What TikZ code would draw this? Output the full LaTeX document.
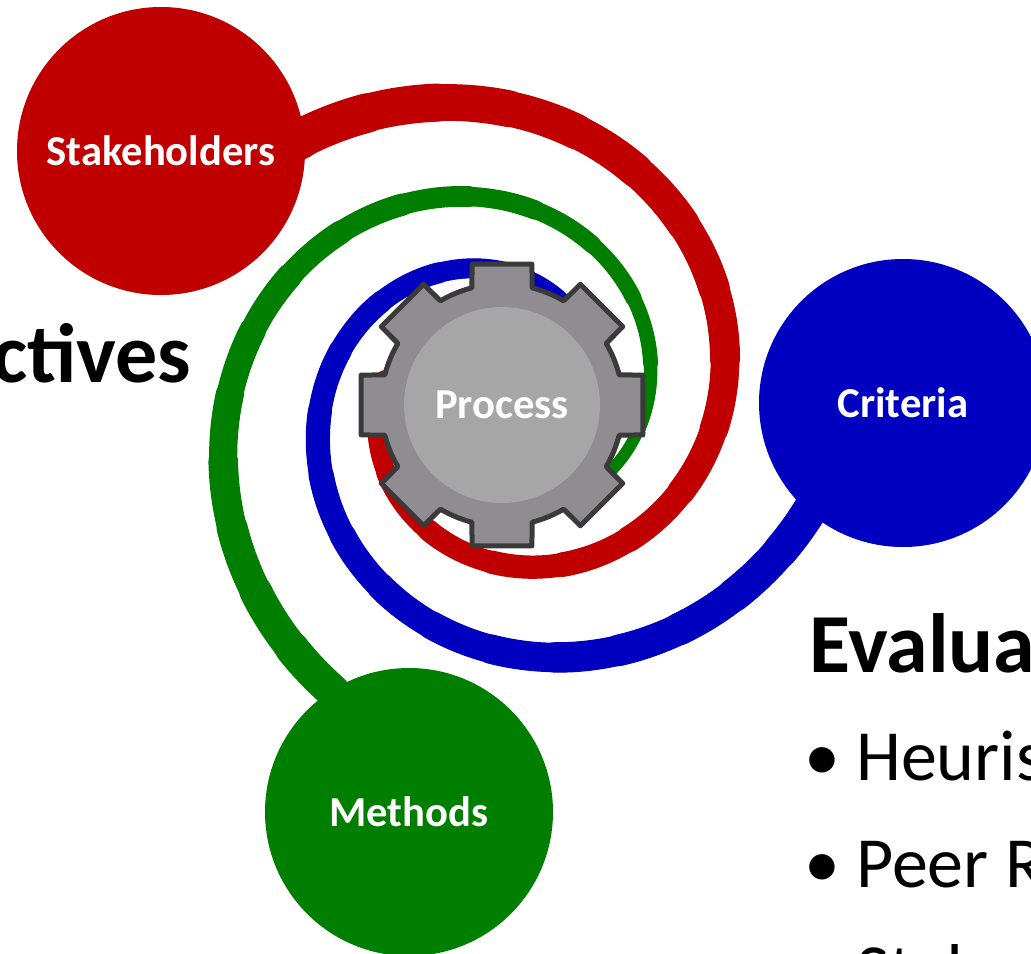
\documentclass[tikz,border=0pt]{standalone}
\usepackage{fontspec}
\setmainfont{Carlito}
\usepackage{xcolor}
\usepackage{tikz}
\usetikzlibrary{backgrounds}
\definecolor{armred}{RGB}{192,0,0}
\definecolor{armgreen}{RGB}{0,126,0}
\definecolor{armblue}{RGB}{0,0,192}
\definecolor{gearbody}{RGB}{143,141,146}
\definecolor{gearhub}{RGB}{166,166,166}
\definecolor{gearrim}{RGB}{58,58,58}
% colour, start width, end width, length (pt), path
\newcommand\taper[5]{\foreach \k [evaluate=\k as \dl using {\k==20 ? 4000 : #4/20*\k}, evaluate=\k as \lw using #2-(#2-#3)/19*(\k-1)] in {1,...,20}
	\draw[#1,line width=\lw pt,line cap=round,line join=round,dash pattern=on \dl pt off 4000pt] #5;}

\begin{document}
\begin{tikzpicture}[x=0.75pt,y=-0.75pt]
		\tikzset{ball/.style={circle,fill=#1,minimum size=216pt,inner sep=0pt,text=white,font=\fontsize{32}{38}\selectfont\bfseries}};
		\tikzset{big/.style={anchor=base west,inner sep=0pt,font=\fontsize{63}{70}\selectfont\bfseries}};
		\tikzset{item/.style={anchor=base west,inner sep=0pt,font=\fontsize{54}{60}\selectfont}};
		\useasboundingbox (0,0) rectangle (1031,953);
		
		\node[ball=armred] (sh) at (161,151) {Stakeholders};
		\node[ball=armblue] (crit) at (903,403) {Criteria};
		\node[ball=armgreen] (meth) at (409,812) {Methods};
		
		% gear
		\coordinate (hub) at (502,405);
		\filldraw[fill=gearbody,draw=gearrim,line width=3.75pt,line join=round,shift={(hub)}] (-14.4:121)
			\foreach \a in {0,45,...,315} {-- (\a-14.4:121) -- (\a-12:144) -- (\a+12:144) -- (\a+14.4:121) arc[start angle=\a+14.4,end angle=\a+30.6,radius=121]} -- cycle;
		\node[circle,fill=gearhub,minimum size=147pt,inner sep=0pt,text=white,font=\fontsize{32}{38}\selectfont\bfseries] (gear) at (hub) {Process};
		
		% spirals
		\begin{scope}[on background layer]
		\taper{armred}{31.6}{12.4}{1072}{(sh.center) -- plot[domain=-42:280,samples=90,smooth] ({502+292.6*exp(-0.0032*\x)*sin(\x)},{400-292.6*exp(-0.0032*\x)*cos(\x)}) -- (gear.center)}
		\taper{armgreen}{27.7}{6.8}{1012}{(meth.center) -- plot[domain=-150:135,samples=90,smooth] ({502+199.6*exp(-0.0035*\x)*sin(\x)},{400-199.6*exp(-0.0035*\x)*cos(\x)}) -- (gear.center)}
		\taper{armblue}{27.6}{12.6}{965}{(crit.center) -- plot[domain=105:400,samples=90,smooth] ({502+491.9*exp(-0.00373*\x)*sin(\x)},{400-491.9*exp(-0.00373*\x)*cos(\x)}) -- (gear.center)}
		\end{scope}
		
		\node[big] (obj) at (-8,382) {ctives};
		\node[big] (eval) at (809,672) {Evalua};
		\foreach \t [count=\i] in {Heuris,Peer R,Stak} {
			\node[item] (dot\i) at (804,{780+107*(\i-1)}) {•};
			\node[item] (txt\i) at (856,{780+107*(\i-1)}) {\t};
		}
\end{tikzpicture}
\end{document}
